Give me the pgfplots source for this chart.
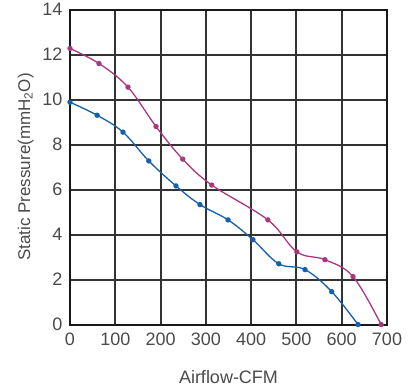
\documentclass[border=0pt]{standalone}
\usepackage{pgfplots}
\pgfplotsset{compat=1.18}
\usepackage{fontspec}
\setmainfont{Liberation Sans}
\definecolor{pinkc}{HTML}{A8387F}
\definecolor{bluec}{HTML}{1560A8}
\definecolor{txt}{HTML}{4A4A4A}
\begin{document}
\begin{tikzpicture}
\begin{axis}[
  scale only axis,
  width=317pt, height=315pt,
  xmin=0, xmax=700, ymin=0, ymax=14,
  xtick={0,100,...,700}, ytick={0,2,...,14},
  grid=major,
  major grid style={line width=2pt, color=black!80},
  axis line style={line width=2pt, color=black!90},
  tick style={draw=none},
  /pgf/number format/assume math mode=true,
  tick label style={font=\fontsize{18}{20}\selectfont, text=txt},
  xticklabel style={yshift=-5pt},
  yticklabel style={xshift=-4pt},
  xlabel={Airflow-CFM},
  ylabel={Static Pressure(mmH\textsubscript{2}O)},
  xlabel style={font=\fontsize{18}{20}\selectfont, text=txt, yshift=-18pt},
  ylabel style={font=\fontsize{17}{19}\selectfont, text=txt, yshift=2pt},
  clip=false,
]
\addplot[color=pinkc, line width=1.3pt, smooth, tension=0.6, mark=*, mark size=2pt] coordinates {
 (0,12.27) (64,11.6) (128,10.55) (190,8.8) (249,7.35) (313,6.2) (437,4.65) (501,3.23) (563,2.88) (625,2.13) (687,0)
};
\addplot[color=bluec, line width=1.3pt, smooth, tension=0.6, mark=*, mark size=2pt] coordinates {
 (0,9.88) (60,9.3) (117,8.55) (174,7.27) (234,6.16) (287,5.33) (349,4.65) (404,3.77) (461,2.7) (519,2.44) (578,1.46) (636,0)
};
\end{axis}
\path (current axis.south west) ++(-70pt,-64pt) rectangle ++(417pt,387pt);
\end{tikzpicture}
\end{document}
